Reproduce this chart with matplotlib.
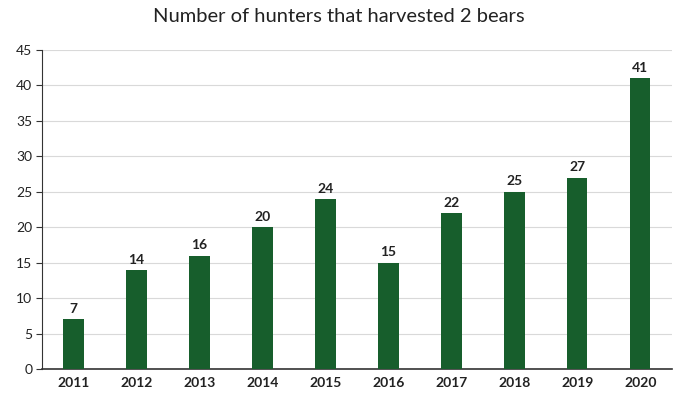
import matplotlib
matplotlib.use("Agg")
import matplotlib.pyplot as plt

years = ["2011", "2012", "2013", "2014", "2015", "2016", "2017", "2018", "2019", "2020"]
hunters = [7, 14, 16, 20, 24, 15, 22, 25, 27, 41]
yticks = [0, 5, 10, 15, 20, 25, 30, 35, 40, 45]

plt.rcParams['font.family'] = ['Lato', 'DejaVu Sans']

fig = plt.figure(figsize=(6.78, 3.99), dpi=100)
ax = fig.add_axes([0.062, 0.075, 0.929, 0.800])

x = list(range(len(years)))
bars = ax.bar(x, hunters, width=0.32, color="#175e2c", zorder=3)
for xi, v in zip(x, hunters):
    ax.text(xi, v + 0.6, str(v), ha="center", va="bottom", fontsize=10, fontweight="bold", color="#222222")

ax.set_xlim(-0.5, len(years) - 0.5)
ax.set_ylim(0, 45)
ax.set_yticks(yticks)
ax.set_yticklabels([str(t) for t in yticks], fontsize=10, color="#222222")
ax.set_xticks(x)
ax.set_xticklabels(years, fontsize=10, fontweight="bold", color="#222222")
ax.tick_params(axis="x", length=0, pad=6)
ax.tick_params(axis="y", length=4, direction="out", color="#333333", pad=3)
ax.grid(axis="y", color="#d9d9d9", linewidth=0.8, zorder=0)
for s in ["top", "right"]:
    ax.spines[s].set_visible(False)
ax.spines["left"].set_color("#333333")
ax.spines["bottom"].set_color("#333333")
ax.spines["bottom"].set_linewidth(1.2)

fig.suptitle("Number of hunters that harvested 2 bears", fontsize=14.5, y=0.98, color="#222222")
fig.savefig("out.png", dpi=100)
